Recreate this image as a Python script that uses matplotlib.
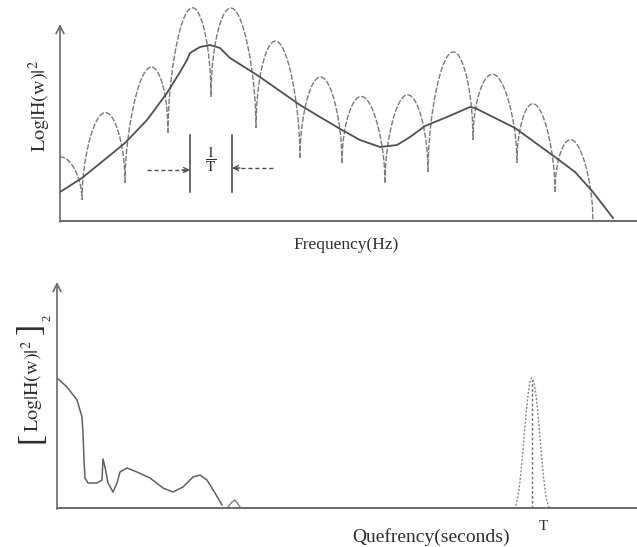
import numpy as np
import matplotlib.pyplot as plt

plt.rcParams['font.family'] = ['Liberation Serif', 'DejaVu Serif']
plt.rcParams['mathtext.fontset'] = 'stix'

# --- top panel: log spectrum (units, origin at axis corner)
notch_x = [-21, 22, 65, 108, 151, 196, 240, 282, 325, 368, 413, 457, 495, 533]
notch_y = [21, 21, 38, 88, 124, 93, 63, 58, 38, 49, 81, 58, 29, 0]
peak_y = [64, 108, 151, 212, 212, 179, 144, 124, 126, 168, 146, 116, 80]

env_x = [0, 22, 65, 87, 107, 120, 127, 130, 140, 150, 160, 170, 197, 240, 260,
         282, 300, 320, 337, 350, 365, 387, 410, 415, 455, 495, 515, 533, 553]
env_y = [29, 43, 78, 101, 128, 149, 161, 168, 174, 176, 173, 163, 146, 116, 104,
         91, 81, 74, 76, 84, 95, 104, 114, 113, 93, 64, 49, 29, 3]

# --- bottom panel: cepstrum
cep_x = [0, 10, 20, 25, 26, 27, 28, 31, 40, 45, 46, 48, 51, 56, 60, 63, 70, 80,
         93, 106, 116, 126, 136, 143, 150, 158, 165]
cep_y = [130, 121, 108, 91, 75, 48, 30, 25, 25, 28, 49, 41, 25, 16, 25, 36, 40,
         36, 30, 20, 16, 21, 31, 33, 28, 15, 3]
bump_x = [171, 175, 178, 181, 183]
bump_y = [1, 6, 8, 4, 1]
pitch_x = 475
pitch_h = 130
pitch_w = 38

fig = plt.figure(figsize=(6.37, 5.47), dpi=100)
W, H = 637, 547

axc = '#6a6a6a'
txt = '#2e2e2e'

# top axes: x axis at y=221 px, y axis at x=60 px
ax1 = fig.add_axes([60 / W, (H - 221) / H, (W - 60) / W, 221 / H])
ax1.set_xlim(0, W - 60)
ax1.set_ylim(0, 221)
ax1.axis('off')

for i in range(len(peak_y)):
    x0, x1 = notch_x[i], notch_x[i + 1]
    y0, y1 = notch_y[i], notch_y[i + 1]
    t = np.linspace(0, 1, 80)
    base = y0 + (y1 - y0) * t
    mid = (y0 + y1) / 2
    yy = base + (peak_y[i] - mid) * np.sqrt(np.sin(np.pi * t))
    ax1.plot(x0 + (x1 - x0) * t, yy, color='#7a7a7a', lw=1.0,
             ls=(0, (4, 1.2)))

ax1.plot(env_x, env_y, color='#505050', lw=1.3)

ax1.plot([0, W - 60], [0, 0], color=axc, lw=1.4, clip_on=False)
ax1.annotate('', xy=(0, 197), xytext=(0, -1),
             arrowprops=dict(arrowstyle='->', color=axc, lw=1.2,
                             mutation_scale=14, shrinkA=0, shrinkB=0))

# 1/T marker
for vx in (130, 172):
    ax1.plot([vx, vx], [29, 86], color='#404040', lw=1.1)
ax1.plot([87, 128], [51, 51], color='#505050', lw=1.0, ls=(0, (3, 2)))
ax1.plot([174, 213], [53, 53], color='#505050', lw=1.0, ls=(0, (3, 2)))
ax1.annotate('', xy=(130, 51), xytext=(122, 51),
             arrowprops=dict(arrowstyle='->', color='#505050', lw=1.0,
                             mutation_scale=9, shrinkA=0, shrinkB=0))
ax1.annotate('', xy=(172, 53), xytext=(180, 53),
             arrowprops=dict(arrowstyle='->', color='#505050', lw=1.0,
                             mutation_scale=9, shrinkA=0, shrinkB=0))
ax1.text(151, 62, r'$\dfrac{1}{\mathrm{T}}$', fontsize=11, ha='center',
         va='center', color=txt)

fig.text(40 / W, 1 - 106 / H, r'$\mathrm{Log}|\mathrm{H(w)}|^{2}$',
         rotation=90, ha='center', va='center', fontsize=14.5, color=txt)
fig.text(346 / W, 1 - 245 / H, 'Frequency(Hz)', ha='center', va='center',
         fontsize=12.5, color=txt)

# bottom axes: x axis at y=508 px, y axis at x=57 px
ax2 = fig.add_axes([57 / W, (H - 508) / H, (W - 57) / W, 238 / H])
ax2.set_xlim(0, W - 57)
ax2.set_ylim(0, 238)
ax2.axis('off')

ax2.plot(cep_x, cep_y, color='#606060', lw=1.1)
ax2.plot(bump_x, bump_y, color='#808080', lw=1.0)

t = np.linspace(-1, 1, 120)
px = pitch_x + t * pitch_w / 2
py = pitch_h * np.cos(np.pi * t / 2) ** 2.6
ax2.plot(px, py, color='#8a8a8a', lw=1.0, ls=(0, (1.5, 1.2)))
ax2.plot([pitch_x, pitch_x], [0, pitch_h - 2], color='#707070', lw=1.0,
         ls=(0, (2, 1.5)))

ax2.plot([0, W - 57], [0, 0], color=axc, lw=1.4, clip_on=False)
ax2.annotate('', xy=(0, 226), xytext=(0, -1),
             arrowprops=dict(arrowstyle='->', color=axc, lw=1.2,
                             mutation_scale=14, shrinkA=0, shrinkB=0))

# bottom y label with tall brackets
fig.text(33 / W, 1 - 386 / H, r'$\mathrm{Log}|\mathrm{H(w)}|^{2}$',
         rotation=90, ha='center', va='center', fontsize=14.5, color=txt)
fig.text(31 / W, 1 - 437 / H, '[', rotation=90, ha='center', va='center',
         fontsize=24, color=txt)
fig.text(31 / W, 1 - 328 / H, ']', rotation=90, ha='center', va='center',
         fontsize=24, color=txt)
fig.text(47 / W, 1 - 318 / H, '2', rotation=90, ha='center', va='center',
         fontsize=9, color=txt)

fig.text(431 / W, 1 - 537 / H, 'Quefrency(seconds)', ha='center',
         va='center', fontsize=14, color=txt)
fig.text(543 / W, 1 - 526 / H, 'T', ha='center', va='center',
         fontsize=11, color=txt)

fig.savefig('out.png', dpi=100)
